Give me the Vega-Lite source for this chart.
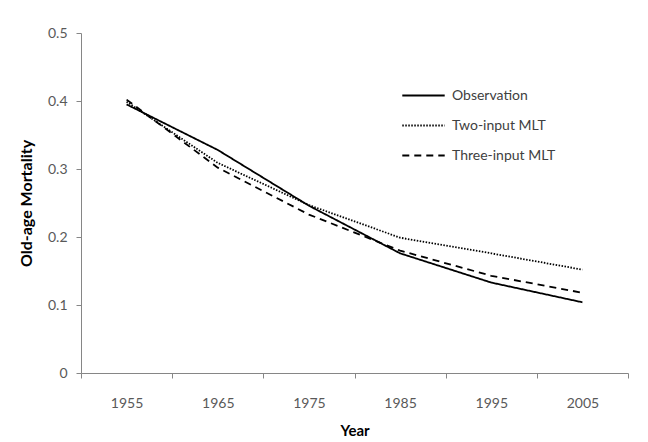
{
  "$schema": "https://vega.github.io/schema/vega-lite/v6.json",
  "autosize": {"type": "none"},
  "width": 547,
  "height": 340,
  "padding": {"left": 81, "top": 33, "right": 20, "bottom": 69},
  "background": "white",
  "config": {
    "view": {"stroke": null},
    "font": "Lato"
  },
  "data": {
    "values": [
      {"Year": 1955, "series": "Observation", "value": 0.395},
      {"Year": 1965, "series": "Observation", "value": 0.328},
      {"Year": 1975, "series": "Observation", "value": 0.246},
      {"Year": 1985, "series": "Observation", "value": 0.176},
      {"Year": 1995, "series": "Observation", "value": 0.133},
      {"Year": 2005, "series": "Observation", "value": 0.104},
      {"Year": 1955, "series": "Two-input MLT", "value": 0.399},
      {"Year": 1965, "series": "Two-input MLT", "value": 0.309},
      {"Year": 1975, "series": "Two-input MLT", "value": 0.247},
      {"Year": 1985, "series": "Two-input MLT", "value": 0.199},
      {"Year": 1995, "series": "Two-input MLT", "value": 0.176},
      {"Year": 2005, "series": "Two-input MLT", "value": 0.152},
      {"Year": 1955, "series": "Three-input MLT", "value": 0.402},
      {"Year": 1965, "series": "Three-input MLT", "value": 0.302},
      {"Year": 1975, "series": "Three-input MLT", "value": 0.233},
      {"Year": 1985, "series": "Three-input MLT", "value": 0.180},
      {"Year": 1995, "series": "Three-input MLT", "value": 0.143},
      {"Year": 2005, "series": "Three-input MLT", "value": 0.118}
    ]
  },
  "mark": {"type": "line", "color": "black", "strokeWidth": 1.8},
  "encoding": {
    "x": {
      "field": "Year",
      "type": "quantitative",
      "scale": {"domain": [1950, 2010], "nice": false, "zero": false},
      "axis": {
        "values": [1950, 1955, 1960, 1965, 1970, 1975, 1980, 1985, 1990, 1995, 2000, 2005, 2010],
        "labelExpr": "datum.value % 10 === 5 ? datum.value : ''",
        "tickOpacity": {"condition": {"test": "datum.value % 10 === 0", "value": 1}, "value": 0},
        "tickSize": 5,
        "tickColor": "#868686",
        "domainColor": "#868686",
        "grid": false,
        "labelColor": "#595959",
        "labelFontSize": 14,
        "labelPadding": 18,
        "labelFont": "Lato",
        "title": "Year",
        "titleFontSize": 15,
        "titleFontWeight": "bold",
        "titleColor": "black",
        "titlePadding": 13,
        "labelFlush": false,
        "labelOverlap": false
      }
    },
    "y": {
      "field": "value",
      "type": "quantitative",
      "scale": {"domain": [0, 0.5], "nice": false},
      "axis": {
        "values": [0, 0.1, 0.2, 0.3, 0.4, 0.5],
        "labelExpr": "datum.value === 0 ? '0' : format(datum.value, '.1f')",
        "tickSize": 5,
        "tickColor": "#868686",
        "domainColor": "#868686",
        "grid": false,
        "labelColor": "#595959",
        "labelFontSize": 14,
        "labelPadding": 9,
        "title": "Old-age Mortality",
        "titleFontSize": 16,
        "titleFontWeight": "bold",
        "titleColor": "black",
        "titlePadding": 13
      }
    },
    "strokeDash": {
      "field": "series",
      "type": "nominal",
      "scale": {
        "domain": ["Observation", "Two-input MLT", "Three-input MLT"],
        "range": [[1, 0], [1.5, 1.5], [7, 5]]
      },
      "legend": {
        "title": null,
        "orient": "none",
        "legendX": 320,
        "legendY": 40,
        "symbolType": "stroke",
        "symbolSize": 1800,
        "symbolStrokeColor": "black",
        "symbolStrokeWidth": 2,
        "labelFontSize": 14,
        "labelColor": "#404040",
        "rowPadding": 0,
        "labelOffset": 6
      }
    }
  }
}
